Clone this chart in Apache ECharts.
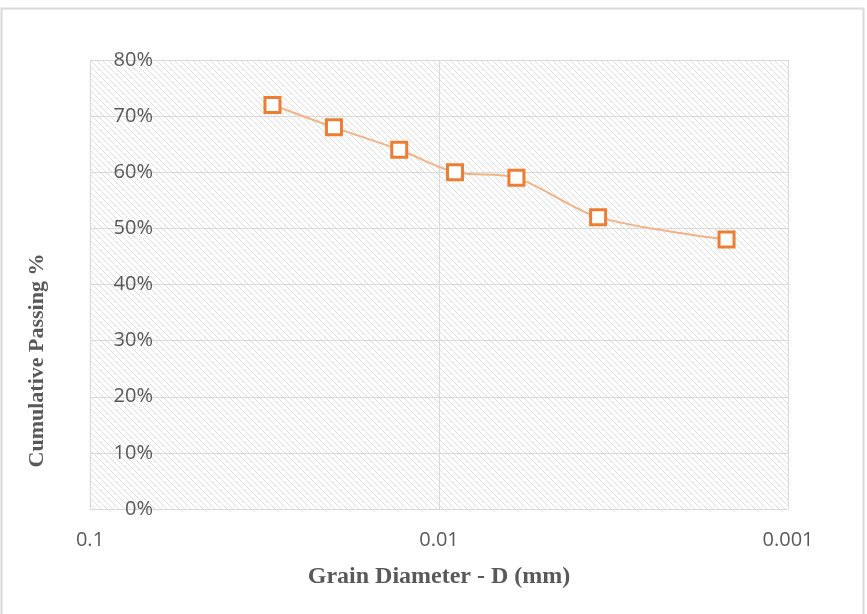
<!DOCTYPE html>
<html>
<head>
<meta charset="utf-8">
<script src="https://cdn.jsdelivr.net/npm/echarts@6/dist/echarts.min.js"></script>
<style>
  html, body { margin: 0; padding: 0; background: #fff; }
  #chart { width: 867px; height: 614px; }
</style>
</head>
<body>
<div id="chart"></div>
<script>
// Grain size distribution (hydrometer range)
const grainDiameter = [0.03, 0.02, 0.013, 0.009, 0.006, 0.0035, 0.0015]; // mm
const cumulativePassing = [72, 68, 64, 60, 59, 52, 48];                  // %
const xTickLabels = ['0.1', '0.01', '0.001'];
const yTickLabels = ['0%', '10%', '20%', '30%', '40%', '50%', '60%', '70%', '80%'];

// Diagonal hatch fill for the plot area
function hatchPattern() {
  const size = 6;
  const c = document.createElement('canvas');
  c.width = size; c.height = size;
  const ctx = c.getContext('2d');
  ctx.fillStyle = '#ffffff';
  ctx.fillRect(0, 0, size, size);
  ctx.strokeStyle = '#dedede';
  ctx.lineWidth = 1;
  ctx.beginPath();
  ctx.moveTo(-1, -1); ctx.lineTo(size + 1, size + 1);
  ctx.moveTo(-1, size - 1); ctx.lineTo(1, size + 1);
  ctx.moveTo(size - 1, -1); ctx.lineTo(size + 1, 1);
  ctx.stroke();
  return c;
}

const chart = echarts.init(document.getElementById('chart'), null, { renderer: 'canvas' });

const points = grainDiameter.map((d, i) => [d, cumulativePassing[i]]);

chart.setOption({
  animation: false,
  backgroundColor: '#ffffff',
  graphic: [{
    type: 'rect',
    shape: { x: 1.5, y: 8.5, width: 862, height: 640 },
    style: { fill: 'none', stroke: '#d9d9d9', lineWidth: 2 },
    silent: true,
    z: -1
  }],
  grid: {
    left: 90, right: 79, top: 60, bottom: 105,
    show: true,
    borderWidth: 0,
    backgroundColor: { image: hatchPattern(), repeat: 'repeat' }
  },
  xAxis: {
    type: 'log',
    logBase: 10,
    min: 0.001,
    max: 0.1,
    inverse: true,
    name: 'Grain Diameter - D (mm)',
    nameLocation: 'middle',
    nameGap: 56,
    nameTextStyle: {
      fontFamily: 'Liberation Serif', fontWeight: 'bold', fontSize: 24, color: '#595959'
    },
    axisLine: { show: false },
    axisTick: { show: false },
    axisLabel: {
      fontFamily: 'Open Sans', fontSize: 20, color: '#595959', margin: 21,
      formatter: v => {
        const idx = Math.round(-Math.log10(v)) - 1;
        return xTickLabels[idx] !== undefined ? xTickLabels[idx] : '';
      }
    },
    splitLine: { show: true, lineStyle: { color: '#d9d9d9', width: 1 } }
  },
  yAxis: {
    type: 'value',
    min: 0, max: 80, interval: 10,
    name: 'Cumulative Passing %',
    nameLocation: 'middle',
    nameGap: 42,
    nameRotate: 90,
    nameTextStyle: {
      fontFamily: 'Liberation Serif', fontWeight: 'bold', fontSize: 22, color: '#595959',
      padding: [0, 152, 0, 0]
    },
    axisLine: { show: false },
    axisTick: { show: false },
    axisLabel: {
      fontFamily: 'Open Sans', fontSize: 20, color: '#595959', margin: -63,
      formatter: v => yTickLabels[Math.round(v / 10)]
    },
    splitLine: { show: true, lineStyle: { color: '#d9d9d9', width: 1 } }
  },
  series: [{
    type: 'line',
    data: points,
    smooth: 0.3,
    lineStyle: { color: '#f4b183', width: 2 },
    symbol: 'rect',
    symbolSize: 15,
    itemStyle: { color: '#ffffff', borderColor: '#ed7d31', borderWidth: 3 },
    z: 3
  }]
});
</script>
</body>
</html>
